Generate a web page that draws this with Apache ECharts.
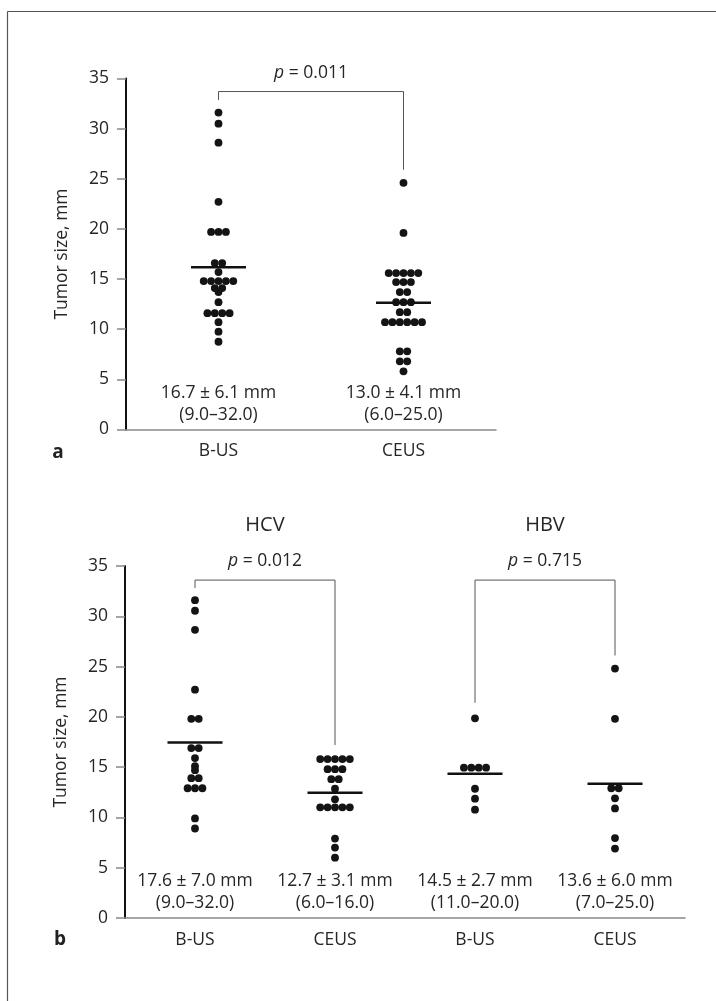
<!DOCTYPE html>
<html><head><meta charset="utf-8">
<script src="https://cdn.jsdelivr.net/npm/echarts@6/dist/echarts.min.js"></script>
<style>html,body{margin:0;padding:0;background:#fff}#c{width:716px;height:1001px}</style>
</head><body><div id="c"></div>
<script>
// ---------- data ----------
const yTicks = { min: 0, max: 35, interval: 5 };
const yName = 'Tumor size, mm';

// panel a
const categoriesA = ['B-US', 'CEUS'];
const aBUS = [31.6, 30.5, 28.6, 22.7, 19.7, 19.7, 19.7, 16.6, 16.6, 15.7,
  14.8, 14.8, 14.8, 14.8, 14.8, 14.1, 14.1, 13.7, 12.7, 11.6, 11.6, 11.6, 11.6, 10.7, 9.75, 8.75];
const aCEUS = [24.6, 19.6, 15.6, 15.6, 15.6, 15.6, 15.6, 14.7, 14.7, 14.7, 13.7, 13.7,
  12.7, 12.7, 12.7, 11.7, 11.7, 10.7, 10.7, 10.7, 10.7, 10.7, 10.7, 7.8, 7.8, 6.8, 6.8, 5.8];
const meansA = [16.17, 12.64];
const statsA = ['16.7 ± 6.1 mm\n(9.0–32.0)', '13.0 ± 4.1 mm\n(6.0–25.0)'];
const pA = ['0.011'];
const bracketsA = [[0, 1, 32.85, 33.7, 25.9]]; // from, to, left end, top, right end

// panel b
const categoriesB = ['B-US', 'CEUS', 'B-US', 'CEUS'];
const groupTitlesB = ['HCV', 'HBV'];
const bHCV_BUS = [31.6, 30.55, 28.65, 22.7, 19.8, 19.8, 16.9, 16.9, 15.9, 15.1, 14.7,
  13.9, 13.9, 12.9, 12.9, 12.9, 9.9, 8.9];
const bHCV_CEUS = [15.8, 15.8, 15.8, 15.8, 15.8, 14.8, 14.8, 14.8, 13.8, 13.8, 12.85, 11.8,
  11.0, 11.0, 11.0, 11.0, 11.0, 7.9, 7.0, 6.0];
const bHBV_BUS = [19.85, 14.95, 14.95, 14.95, 14.95, 12.85, 11.86, 10.77];
const bHBV_CEUS = [24.8, 19.8, 12.9, 12.9, 11.9, 10.9, 7.95, 6.9];
const meansB = [17.45, 12.45, 14.34, 13.35];
const statsB = ['17.6 ± 7.0 mm\n(9.0–32.0)', '12.7 ± 3.1 mm\n(6.0–16.0)',
  '14.5 ± 2.7 mm\n(11.0–20.0)', '13.6 ± 6.0 mm\n(7.0–25.0)'];
const pB = ['0.012', '0.715'];
const bracketsB = [[0, 1, 32.8, 33.6, 17.2], [2, 3, 21.4, 33.6, 26.1]];

// ---------- styling ----------
const FONT = '"Open Sans", "Noto Sans", sans-serif';
const TXT = '#262626';
const DOT = '#141414';
const SPACING = 7.4;
const FS = 17.5;

function swarm(gi, values, xi, yi) {
  const counts = {};
  values.forEach(v => counts[v] = (counts[v] || 0) + 1);
  const seen = {};
  const data = values.map(v => {
    seen[v] = seen[v] === undefined ? 0 : seen[v] + 1;
    const dx = (seen[v] - (counts[v] - 1) / 2) * SPACING;
    return { value: [gi, v], symbolOffset: [dx, 0] };
  });
  return { type: 'scatter', xAxisIndex: xi, yAxisIndex: yi, data, symbol: 'circle',
    symbolSize: 7.8, itemStyle: { color: DOT, opacity: 1 }, silent: true, z: 3 };
}
function meanSeries(means, xi, yi) {
  return { type: 'scatter', xAxisIndex: xi, yAxisIndex: yi, symbol: 'rect',
    symbolSize: [55, 2.5], itemStyle: { color: '#111', opacity: 1 }, z: 4, silent: true,
    data: means.map((m, i) => [i, m]) };
}
function bracketSeries(br, xi, yi) {
  return br.map(b => ({ type: 'line', xAxisIndex: xi, yAxisIndex: yi, symbol: 'none',
    lineStyle: { color: '#555', width: 1 }, silent: true, z: 2,
    data: [[b[0], b[2]], [b[0], b[3]], [b[1], b[3]], [b[1], b[4]]] }));
}
function textSeries(items, xi, yi, style) {
  return { type: 'scatter', xAxisIndex: xi, yAxisIndex: yi, symbolSize: 0, clip: false,
    silent: true, z: 5, itemStyle: { opacity: 1 },
    data: items.map(it => ({ value: [it[0], it[1]], label: { formatter: it[2] } })),
    label: Object.assign({ show: true, position: 'inside', fontFamily: FONT, color: TXT,
      fontSize: FS, lineHeight: 22, rich: { i: { fontStyle: 'italic', fontFamily: FONT, fontSize: FS, color: TXT } } }, style) };
}
function catAxis(gi, cats, tickInterval) {
  return { type: 'category', gridIndex: gi, data: cats, boundaryGap: true,
    axisLine: { lineStyle: { color: '#888', width: 1.5 } },
    axisTick: { length: 9, interval: tickInterval, lineStyle: { color: '#888', width: 1.5 } },
    axisLabel: { margin: 13, fontSize: FS, fontFamily: FONT, color: TXT } };
}
function valX(gi, n) {
  return { type: 'value', gridIndex: gi, min: -0.5, max: n - 0.5, show: false, splitLine: { show: false } };
}
function yAx(gi) {
  return { type: 'value', gridIndex: gi, min: yTicks.min, max: yTicks.max, interval: yTicks.interval,
    name: yName, nameLocation: 'middle', nameGap: 55,
    nameTextStyle: { fontSize: FS, fontFamily: FONT, color: TXT },
    axisLine: { show: true, onZero: false, lineStyle: { color: '#111', width: 2 } },
    axisTick: { show: true, length: 9, lineStyle: { color: '#888', width: 1.5 } },
    axisLabel: { margin: 17, fontSize: FS, fontFamily: FONT, color: TXT },
    splitLine: { show: false } };
}

const series = [
  swarm(0, aBUS, 1, 0), swarm(1, aCEUS, 1, 0), meanSeries(meansA, 1, 0),
  ...bracketSeries(bracketsA, 1, 0),
  textSeries(statsA.map((s, i) => [i, 2.55, s]), 1, 0, {}),
  textSeries(pA.map((p, i) => [(bracketsA[i][0] + bracketsA[i][1]) / 2, 35.5, '{i|p} = ' + p]), 1, 0, {}),
  swarm(0, bHCV_BUS, 3, 1), swarm(1, bHCV_CEUS, 3, 1), swarm(2, bHBV_BUS, 3, 1), swarm(3, bHBV_CEUS, 3, 1),
  meanSeries(meansB, 3, 1),
  ...bracketSeries(bracketsB, 3, 1),
  textSeries(statsB.map((s, i) => [i, 2.6, s]), 3, 1, {}),
  textSeries(pB.map((p, i) => [(bracketsB[i][0] + bracketsB[i][1]) / 2, 35.5, '{i|p} = ' + p]), 3, 1, {}),
  textSeries(groupTitlesB.map((t, i) => [i * 2 + 0.5, 39.0, t]), 3, 1, { fontSize: 20 })
];

const chart = echarts.init(document.getElementById('c'), null, { renderer: 'canvas' });
chart.setOption({
  backgroundColor: '#fff',
  animation: false,
  grid: [
    { left: 126, width: 370, top: 78.5, height: 351 },
    { left: 125, width: 560, top: 566, height: 352 }
  ],
  xAxis: [catAxis(0, categoriesA, 0), valX(0, categoriesA.length), catAxis(1, categoriesB, 1), valX(1, categoriesB.length)],
  yAxis: [yAx(0), yAx(1)],
  series,
  graphic: [
    { type: 'line', shape: { x1: 7.5, y1: 11.5, x2: 716, y2: 11.5 }, style: { stroke: '#555', lineWidth: 1.2 } },
    { type: 'line', shape: { x1: 7.5, y1: 11.5, x2: 7.5, y2: 1001 }, style: { stroke: '#555', lineWidth: 1.2 } },
    { type: 'text', x: 58, y: 453, style: { text: 'a', fontSize: 19, fontWeight: 'bold', fontFamily: FONT, fill: '#222', align: 'center', verticalAlign: 'middle' } },
    { type: 'text', x: 60, y: 940, style: { text: 'b', fontSize: 19, fontWeight: 'bold', fontFamily: FONT, fill: '#222', align: 'center', verticalAlign: 'middle' } }
  ]
});
</script></body></html>
